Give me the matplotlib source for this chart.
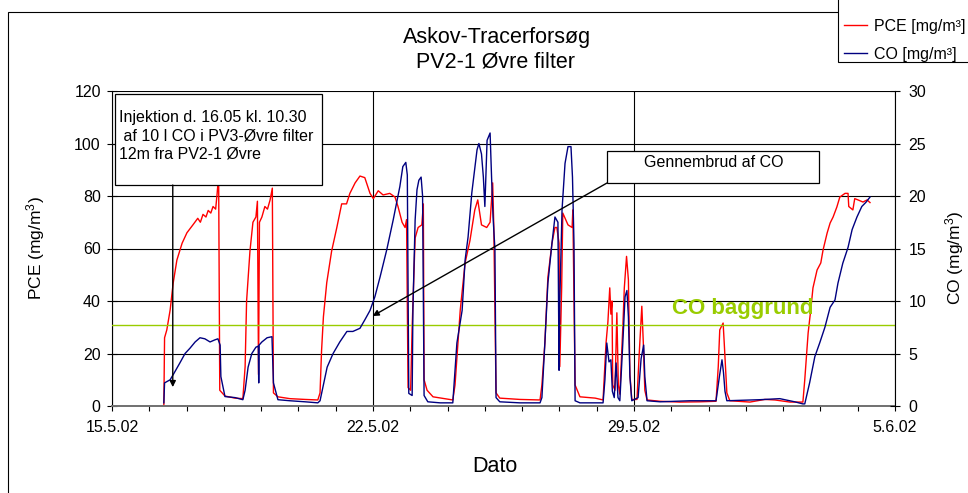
import numpy as np
import matplotlib
matplotlib.use("Agg")
import matplotlib.pyplot as plt
import matplotlib.dates as mdates
from matplotlib.ticker import FixedLocator, FuncFormatter
from matplotlib.patches import Rectangle

plt.rcParams['font.family'] = ['Liberation Sans', 'DejaVu Sans']
plt.rcParams['mathtext.fontset'] = 'custom'
plt.rcParams['mathtext.rm'] = 'Liberation Sans'
plt.rcParams['mathtext.it'] = 'Liberation Sans:italic'

# ---- measurements: days after 15.5.02 00:00 -------------------------------
pce_days = [
    1.39, 1.41, 1.47, 1.56, 1.64, 1.74, 1.88, 2.01, 2.17, 2.30, 2.37, 2.44,
    2.52, 2.58, 2.65, 2.71, 2.78, 2.82, 2.86, 2.89, 3.03, 3.30, 3.51,
    3.57, 3.61, 3.70, 3.78, 3.86, 3.90, 3.93, 3.955, 4.02, 4.10, 4.17, 4.24,
    4.30, 4.33, 4.45, 4.77, 5.18, 5.52,
    5.58, 5.62, 5.67, 5.76, 5.89, 6.03, 6.16, 6.29, 6.38, 6.52, 6.65, 6.78,
    6.92, 7.01, 7.14, 7.27, 7.45, 7.59, 7.67, 7.78, 7.86, 7.90, 7.94, 8.01,
    8.05, 8.13, 8.21, 8.31, 8.35, 8.37, 8.45, 8.61, 8.93, 9.14,
    9.20, 9.34, 9.47, 9.60, 9.73, 9.81, 9.91, 10.05, 10.14, 10.21, 10.24,
    10.30, 10.40, 10.94, 11.48,
    11.53, 11.61, 11.69, 11.80, 11.88, 11.93, 11.99, 12.01, 12.06, 12.09,
    12.23, 12.34, 12.36, 12.42, 12.55, 12.96, 13.17,
    13.25, 13.30, 13.35, 13.38, 13.41, 13.43, 13.49, 13.54, 13.58, 13.62,
    13.70, 13.74, 13.80, 13.85, 13.89, 13.94, 14.08, 14.14, 14.21, 14.25,
    14.29, 14.35, 14.70, 15.23, 15.77, 16.20, 16.26, 16.30, 16.39, 16.42,
    16.49, 16.57, 17.11, 17.51, 17.78, 18.18, 18.53,
    18.58, 18.67, 18.74, 18.80, 18.91, 19.01, 19.07, 19.18, 19.26, 19.34,
    19.44, 19.52, 19.66, 19.74, 19.76, 19.87, 19.92, 20.01, 20.14, 20.25, 20.33,
]
pce_values = [
    0, 26, 29, 36.6, 46.8, 55.6, 62, 66, 69, 71.5, 70, 73,
    72, 74.5, 73.5, 76, 75, 81, 88, 6, 3.8, 3.0, 2.8,
    15, 40, 59, 70, 72, 78, 12, 70, 72, 76, 75, 78.5,
    83, 5, 3.5, 2.8, 2.5, 2.3,
    5, 21, 34, 47, 59, 68, 77, 77, 81, 85, 87.6, 87,
    81, 79, 82, 80.4, 81, 79.6, 76, 70, 68, 71, 7, 6,
    30, 64, 68, 69, 77, 10, 6, 3.5, 2.8, 2.3,
    8, 36.6, 54.5, 63, 74.7, 78.5, 69, 68, 70, 85, 68,
    5, 3, 2.5, 2.3,
    8, 24, 49, 62, 68, 68, 62, 15, 45, 73.5,
    69, 68, 74.7, 8, 3.5, 3, 2.3,
    24, 32, 45, 35, 40, 8, 6, 35.5, 8, 4.5,
    30, 45, 57, 48, 12, 2.5, 2.5, 20, 38, 24,
    6, 2.3, 1.8, 1.5, 1.6, 1.8, 15, 29, 31.6, 24,
    5, 2, 1.5, 2.5, 2.3, 1.5, 1.5,
    10, 27.8, 36.6, 45, 51.8, 54.5, 59.4, 65.9, 69.7, 72,
    75.8, 79.6, 81, 81, 76, 74.7, 79, 78.5, 77.7, 78.5, 77.5,
]

co_days = [
    1.39, 1.41, 1.56, 1.66, 1.82, 1.96, 2.09, 2.23, 2.36, 2.49, 2.63, 2.76,
    2.84, 2.90, 2.92, 3.03, 3.30, 3.51,
    3.57, 3.65, 3.75, 3.86, 3.925, 3.935, 3.945, 4.02, 4.16, 4.29, 4.33,
    4.45, 4.77, 5.18, 5.52,
    5.58, 5.77, 5.93, 6.11, 6.30, 6.46, 6.65, 6.78, 6.92, 7.05, 7.19, 7.37,
    7.54, 7.72, 7.80, 7.88, 7.92, 7.96, 8.05, 8.07, 8.13, 8.18, 8.23, 8.29,
    8.33, 8.37, 8.47, 8.80, 9.14,
    9.25, 9.39, 9.47, 9.55, 9.65, 9.79, 9.84, 9.91, 9.96, 10.00, 10.06,
    10.14, 10.18, 10.22, 10.27, 10.30, 10.40, 10.94, 11.48,
    11.53, 11.61, 11.69, 11.80, 11.88, 11.96, 11.99, 12.01, 12.07, 12.15,
    12.23, 12.31, 12.35, 12.39, 12.42, 12.55, 13.17,
    13.22, 13.27, 13.33, 13.38, 13.42, 13.47, 13.52, 13.57, 13.62, 13.70,
    13.76, 13.81, 13.85, 13.89, 13.94, 14.11, 14.19, 14.26, 14.29, 14.35,
    14.70, 15.50, 16.20, 16.29, 16.36, 16.40, 16.44, 16.49, 17.37, 17.91,
    18.31, 18.53,
    18.58, 18.71, 18.85, 18.98, 19.12, 19.26, 19.39, 19.47, 19.60, 19.74,
    19.85, 19.98, 20.11, 20.22, 20.33,
]
co_values = [
    0.3, 2.2, 2.5, 3.1, 4.1, 5.0, 5.5, 6.1, 6.5, 6.4, 6.1, 6.3,
    6.4, 5.8, 2.8, 0.9, 0.8, 0.6,
    1.5, 3.7, 5.0, 5.6, 5.7, 2.2, 5.8, 6.1, 6.5, 6.6, 2.2,
    0.6, 0.5, 0.4, 0.3,
    0.5, 3.7, 5.0, 6.1, 7.1, 7.1, 7.4, 8.2, 9.1, 10.4, 12.3, 14.9,
    17.7, 20.9, 22.8, 23.2, 22.0, 1.2, 1.0, 9.1, 17.7, 20.6, 21.5, 21.8,
    20.0, 1.0, 0.4, 0.3, 0.3,
    6.0, 9.1, 13.9, 16.1, 20.3, 24.4, 25.0, 24.0, 21.8, 19.0, 25.3,
    26.0, 21.8, 18.0, 14.9, 0.8, 0.4, 0.3, 0.3,
    0.8, 6.0, 11.7, 15.5, 18.0, 17.5, 3.4, 10.0, 18.7, 23.1,
    24.7, 24.7, 21.8, 15.5, 0.5, 0.3, 0.3,
    2.5, 6.0, 4.2, 4.4, 1.4, 0.8, 4.1, 0.8, 0.5, 6.0,
    10.4, 11.0, 8.5, 2.8, 0.5, 0.8, 4.5, 5.8, 2.8, 0.5,
    0.4, 0.5, 0.5, 2.8, 4.4, 3.2, 1.4, 0.5, 0.6, 0.7,
    0.4, 0.2,
    0.2, 2.2, 4.7, 6.0, 7.5, 9.4, 10.1, 11.7, 13.6, 15.1,
    16.8, 18.0, 19.0, 19.4, 19.9,
]

co_background = 7.7          # mg/m3, CO background level
injection_day = 1.63         # injection marker position (days)
breakthrough_day = 6.99      # "Gennembrud af CO" arrow target (days)
breakthrough_co = 8.57

tick_dates = np.array(['2002-05-15', '2002-05-22', '2002-05-29', '2002-06-05'],
                      dtype='datetime64[D]')
pce_ticks = [0, 20, 40, 60, 80, 100, 120]
co_ticks = [0, 5, 10, 15, 20, 25, 30]

start = np.datetime64('2002-05-15T00:00')


def to_dates(days):
    minutes = np.round(np.asarray(days, dtype=float) * 1440).astype(np.int64)
    return start + minutes.astype('timedelta64[m]')


def date_label(v, pos=None):
    d = mdates.num2date(v)
    return f"{d.day}.{d.month}.{d:%y}"


# ---- layout (pixels) ------------------------------------------------------
W, H = 968, 493
L, R, T, B = 112, 895, 91, 406
RED = '#FF0000'
NAVY = '#000080'
GREEN = '#99CC00'

fig = plt.figure(figsize=(W / 100, H / 100), dpi=100)
fig.patch.set_facecolor('white')

# outer chart frame
fig.add_artist(Rectangle((8 / W, -0.2), 1.3, (1 - 12 / H) + 0.2,
                         transform=fig.transFigure, fill=False,
                         edgecolor='black', lw=0.8, zorder=0))

ax = fig.add_axes([L / W, (H - B) / H, (R - L) / W, (B - T) / H])
ax2 = ax.twinx()

pce_line, = ax.plot(to_dates(pce_days), pce_values, color=RED, lw=1.0,
                    label='PCE [mg/m³]')
co_line, = ax2.plot(to_dates(co_days), co_values, color=NAVY, lw=1.0,
                    label='CO [mg/m³]')
ax2.axhline(co_background, color=GREEN, lw=1.0, zorder=1)

xlim = to_dates([0, 21])
ax.set_xlim(xlim[0], xlim[1])
ax.set_ylim(0, 120)
ax2.set_ylim(0, 30)

ax.xaxis.set_major_locator(FixedLocator(mdates.date2num(tick_dates)))
ax.xaxis.set_minor_locator(mdates.DayLocator())
ax.xaxis.set_major_formatter(FuncFormatter(date_label))
ax.set_yticks(pce_ticks)
ax2.set_yticks(co_ticks)

ax.grid(True, which='major', color='black', lw=0.8)
ax.set_axisbelow(True)

ax.tick_params(axis='x', which='both', direction='out', length=3.6,
               width=0.8, labelsize=11.5, pad=6.5)
ax.tick_params(axis='y', direction='inout', length=7.2, width=0.8,
               labelsize=11.5, pad=4.5)
ax2.tick_params(axis='y', direction='inout', length=7.2, width=0.8,
                labelsize=11.5, pad=6)

for s in ('top', 'right'):
    ax.spines[s].set_visible(False)
for s in ('top', 'left', 'bottom'):
    ax2.spines[s].set_visible(False)
ax.spines['bottom'].set_color('#707070')
ax.spines['bottom'].set_linewidth(1.4)
ax.spines['left'].set_linewidth(0.8)
ax2.spines['right'].set_linewidth(0.8)

# axis titles
ax.set_xlabel('Dato', fontsize=15.5)
ax.xaxis.label.set_va('baseline')
ax.xaxis.set_label_coords((495 - L) / (R - L), (B - 472) / (B - T))

ax.set_ylabel('PCE (mg/m$^{3}$)', fontsize=12.5)
ax.yaxis.label.set_va('center')
ax.yaxis.set_label_coords((36 - L) / (R - L), 0.5)

ax2.set_ylabel('CO (mg/m$^{3}$)', fontsize=12.5, rotation=90)
ax2.yaxis.label.set_va('center')
ax2.yaxis.set_label_coords(1 + (955 - R) / (R - L), (B - 258) / (B - T))

# chart title
fig.text(497 / W, 1 - 43 / H, 'Askov-Tracerforsøg', ha='center',
         va='baseline', fontsize=15.5)
fig.text(496 / W, 1 - 68 / H, 'PV2-1 Øvre filter', ha='center',
         va='baseline', fontsize=15.5)


def ax_frac(px, py):
    return (px - L) / (R - L), (B - py) / (B - T)


# injection note
x0, y0 = ax_frac(115, 185)
x1, y1 = ax_frac(322, 94)
ax2.add_patch(Rectangle((x0, y0), x1 - x0, y1 - y0, transform=ax2.transAxes,
                        facecolor='white', edgecolor='black', lw=0.9,
                        zorder=10, clip_on=False))
tx, ty = ax_frac(119, 110)
ax2.text(tx, ty, 'Injektion d. 16.05 kl. 10.30\n af 10 l CO i PV3-Øvre filter\n12m fra PV2-1 Øvre',
         transform=ax2.transAxes, ha='left', va='top', fontsize=11.5,
         linespacing=1.25, zorder=11)
inj_x = mdates.date2num(to_dates([injection_day])[0])
ax2.annotate('', xy=(inj_x, 1.8), xycoords='data',
             xytext=(inj_x, y0), textcoords=ax2.get_xaxis_transform(),
             arrowprops=dict(arrowstyle='-|>', color='black', lw=1.0,
                             mutation_scale=9, shrinkA=0, shrinkB=0),
             zorder=11)

# breakthrough note
bx0, by0 = ax_frac(607, 183)
bx1, by1 = ax_frac(819, 151)
ax2.add_patch(Rectangle((bx0, by0), bx1 - bx0, by1 - by0,
                        transform=ax2.transAxes, facecolor='white',
                        edgecolor='black', lw=0.9, zorder=10, clip_on=False))
gx, gy = ax_frac(714, 167)
ax2.text(gx, gy, 'Gennembrud af CO', transform=ax2.transAxes, ha='center',
         va='baseline', fontsize=11.5, zorder=11)
bt_x = mdates.date2num(to_dates([breakthrough_day])[0])
ax2.annotate('', xy=(bt_x, breakthrough_co), xycoords='data',
             xytext=(bx0, by0), textcoords='axes fraction',
             arrowprops=dict(arrowstyle='-|>', color='black', lw=1.0,
                             mutation_scale=9, shrinkA=0, shrinkB=0),
             zorder=11)

# background level label
cx, cy = ax_frac(672, 314)
ax2.text(cx, cy, 'CO baggrund', transform=ax2.transAxes, color=GREEN,
         fontsize=16, fontweight='bold', va='baseline', ha='left', zorder=9)

# legend: white box running off the top/right edge, entries inside it
fig.add_artist(Rectangle((838 / W, 1 - 62 / H), 0.3, 0.3,
                         transform=fig.transFigure, facecolor='white',
                         edgecolor='black', lw=0.8, zorder=4))
leg = fig.legend(handles=[pce_line, co_line], loc='lower left',
                 bbox_to_anchor=(844 / W, 1 - 62 / H),
                 bbox_transform=fig.transFigure, frameon=False,
                 fontsize=11.5, handlelength=1.45, handletextpad=0.45,
                 borderpad=0.0, labelspacing=0.83, borderaxespad=0)
leg.set_zorder(5)

fig.savefig('out.png', dpi=100, facecolor='white')
